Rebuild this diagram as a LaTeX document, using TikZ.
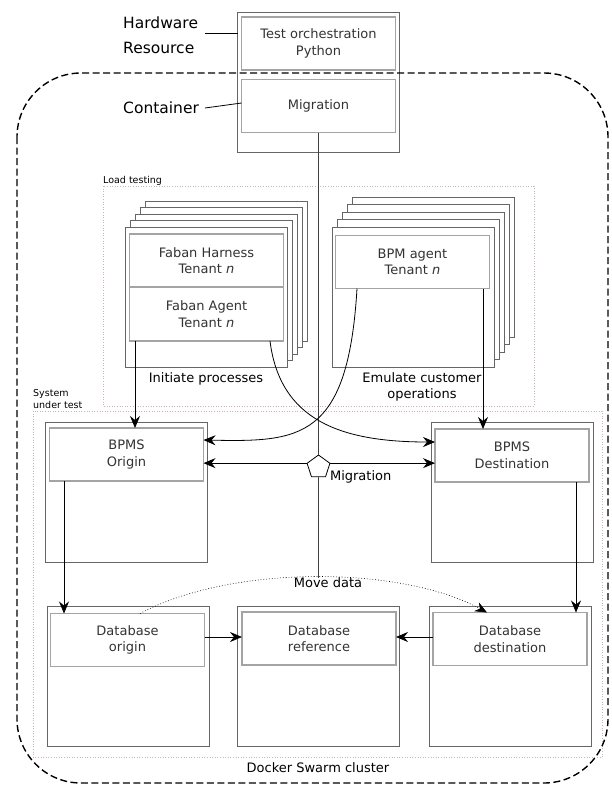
\documentclass[tikz,border=0pt]{standalone}
\usepackage{fontspec}
\setmainfont{DejaVu Sans}
\usetikzlibrary{arrows.meta, positioning, shapes.geometric, calc}

\definecolor{boxgray}{HTML}{666666}
\definecolor{innergray}{HTML}{A4A4A4}
\definecolor{txtgray}{HTML}{333333}
\definecolor{dotpink}{HTML}{C8B4B4}

\tikzset{
  outerbox/.style={draw=boxgray, line width=1pt, fill=white, minimum width=162pt, minimum height=140pt, inner sep=0pt, outer sep=0pt},
  innerbox/.style={draw=innergray, line width=1.5pt, fill=white, minimum width=154pt, minimum height=53pt, align=center, text=txtgray, font=\fontsize{13}{16.5}\selectfont, inner sep=0pt, outer sep=0pt},
  layer/.style={draw=boxgray, line width=1pt, fill=white},
  area/.style={draw=dotpink, dotted, line width=0.6pt},
  lbl/.style={font=\fontsize{13}{16.5}\selectfont, align=center, inner sep=0pt},
  biglbl/.style={font=\fontsize{15.5}{25}\selectfont, align=left, inner sep=0pt},
  small/.style={font=\fontsize{9.5}{12}\selectfont, align=left, inner sep=0pt},
  tip/.style={-{Stealth[length=12pt,width=10pt,inset=4pt]}},
  flow/.style={tip, line width=0.8pt},
  curve/.style={tip, line width=0.8pt},
  conn/.style={draw=black!75, line width=1.1pt},
}

\begin{document}
\begin{tikzpicture}[x=1pt, y=-1pt]
\useasboundingbox (0,0) rectangle (611,785);

% Areas
\draw[area] (103,186) rectangle (534,406);
\node[small, anchor=base west] (ltlbl) at (103,183) {Load testing};
\draw[area] (33,411) rectangle (602,757);
\node[small, anchor=south west] (sutlbl) at (33,409) {System\\under test};

% Hardware resource
\node[outerbox] (hw) at (318.5,82) {};
\node[innerbox] (orch) at (318.5,43.5) {Test orchestration\\Python};
\node[innerbox] (migct) at (318.5,106) {Migration};
\node[biglbl, anchor=north west] (hwlbl) at (123,17) {Hardware\\Resource};
\node[biglbl, anchor=base west] (ctlbl) at (123,113.5) {Container};
\coordinate (hwtip) at (205,33);
\draw[line width=0.8pt] (hwtip) -- (hwtip -| hw.west);
\draw[line width=0.8pt] (205,108) -- ([yshift=3pt]migct.west);

% Docker Swarm cluster
\draw[dash pattern=on 7pt off 3.5pt, line width=1.4pt, rounded corners=64pt] (17,73) rectangle (608,783);
\node[lbl] (swarm) at (318,768) {Docker Swarm cluster};

% Load testing stacks
\foreach \k in {4,3,2,1}
  \draw[layer] ($(206,297)+(-81+5*\k,-70-6.5*\k)$) rectangle ++(162,140);
\node[outerbox] (lstack) at (206,297) {};
\node[innerbox] (harness) at (206.5,260.5) {Faban Harness\\Tenant \textit{n}};
\node[innerbox, below=0pt of harness, minimum height=54pt] (fagent) {Faban Agent\\Tenant \textit{n}};
\node[lbl] (initlbl) at (206,379) {Initiate processes};

\foreach \k in {4,3,2,1}
  \draw[layer] ($(413,297)+(-81+5*\k,-70-7.5*\k)$) rectangle ++(162,140);
\node[outerbox] (rstack) at (413,297) {};
\node[innerbox] (bpmagent) at (412.5,262) {BPM agent\\Tenant \textit{n}};
\node[lbl] (emulbl) at (422,387) {Emulate customer\\operations};

% System under test
\node[outerbox] (bo) at (126.5,492) {};
\node[innerbox] (bporig) at (126.5,454.5) {BPMS\\Origin};
\node[outerbox] (bd) at (512.5,492) {};
\node[innerbox] (bpdest) at (512,455.5) {BPMS\\Destination};

\node[outerbox] (dbo) at (128,676) {};
\node[innerbox] (dborig) at (127.5,640) {Database\\origin};
\node[outerbox] (dbr) at (318.5,676) {};
\node[innerbox] (dbref) at (319,638.5) {Database\\reference};
\node[outerbox] (dbd) at (510.5,676) {};
\node[innerbox] (dbdest) at (510,639) {Database\\destination};

% Migration controller
\node[regular polygon, regular polygon sides=5, draw, line width=0.8pt, fill=white,
      minimum size=24pt, inner sep=0pt] (pent) at (318.5,467) {};
\node[lbl, anchor=west] (miglbl) at ($(pent.corner 4)+(4,0)$) {Migration};
\node[lbl] (movelbl) at (328,583) {Move data};

% Connectors
\draw[conn] (migct.south) -- (pent.north);
\draw[conn] (pent.south) -- (pent.south |- movelbl.north);
\draw[flow] (pent.corner 2) -- (pent.corner 2 -| bporig.east);
\draw[flow] (pent.corner 5) -- (pent.corner 5 -| bpdest.west);

\coordinate (fa) at ([xshift=-71.5pt]fagent.south);
\draw[flow] (fa) -- (fa |- bporig.north);
\coordinate (ba) at ([xshift=70.5pt]bpmagent.south);
\draw[flow] (ba) -- (ba |- bpdest.north);
\coordinate (bo1) at ([xshift=-62.5pt]bporig.south);
\draw[flow] (bo1) -- (bo1 |- dborig.north);
\coordinate (bd1) at ([xshift=64pt]bpdest.south);
\draw[flow] (bd1) -- (bd1 |- dbdest.north);
\draw[flow] ([yshift=3pt]dborig.east) -- ([yshift=3pt]dborig.east -| dbref.west);
\draw[flow] ([yshift=2pt]dbdest.west) -- ([yshift=2pt]dbdest.west -| dbref.east);

\draw[curve] ([xshift=63.5pt]fagent.south)
  .. controls (280,420) and (340,442) .. ([yshift=13.5pt]bpdest.west);
\draw[curve] ([xshift=-55.5pt]bpmagent.south)
  .. controls (348,440) and (300,442) .. ([yshift=14.5pt]bporig.east);

\draw[flow, dotted, line width=0.6pt] ([xshift=12.5pt]dborig.north)
  .. controls (230,565) and (400,565) .. ([xshift=-23pt]dbdest.north);
\end{tikzpicture}
\end{document}
